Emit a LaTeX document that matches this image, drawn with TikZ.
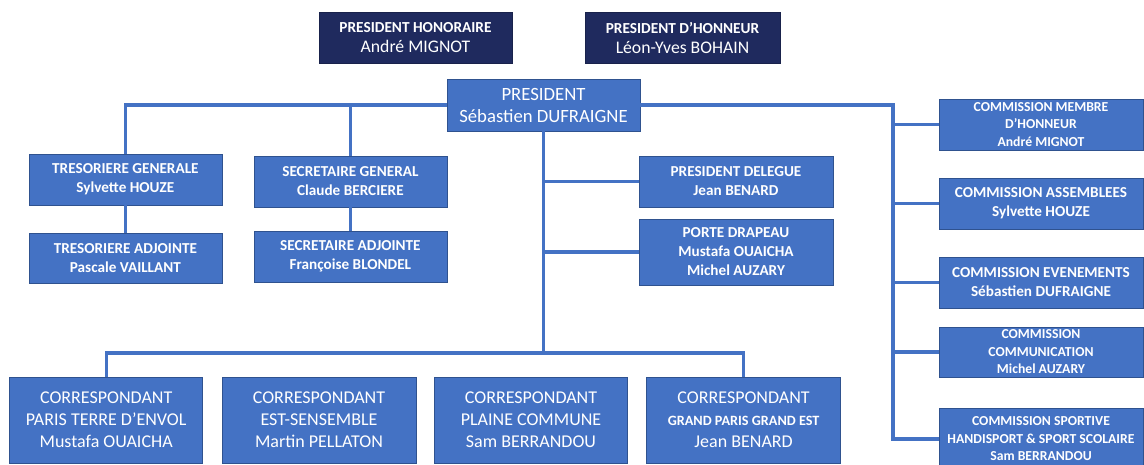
\documentclass[tikz,border=0pt]{standalone}
\usepackage{fontspec}
\setmainfont{Carlito}
\usetikzlibrary{positioning}

\definecolor{rolefill}{HTML}{4472C4}
\definecolor{roleline}{HTML}{2F528F}
\definecolor{honfill}{HTML}{1F2A5E}

\newcommand{\rolefont}{\fontsize{15.2}{19}\selectfont\bfseries}
\newcommand{\comfont}{\fontsize{13.7}{17.5}\selectfont\bfseries}
\newcommand{\corfont}{\fontsize{18}{22}\selectfont}

\tikzset{
        role/.style={rectangle, draw=roleline, fill=rolefill, text=white, align=center,
                line width=0.8pt, inner sep=0pt, minimum width=193pt, minimum height=51pt, font=\rolefont},
        hon/.style={role, draw=honfill!80!black, fill=honfill, font=\fontsize{15.3}{20}\selectfont\bfseries},
        com/.style={role, minimum width=204pt, font=\comfont},
        cor/.style={role, minimum height=86pt, font=\corfont},
        link/.style={draw=rolefill, line width=3.2pt}
}

\begin{document}
\begin{tikzpicture}[x=1pt, y=-1pt]
        \path[fill=white, use as bounding box] (0,0) rectangle (1144,464);
        \node[hon] (Honoraire) at (415.5,37.5) {PRESIDENT HONORAIRE\\{\fontsize{17.7}{20}\selectfont\mdseries André MIGNOT}};
        \node[hon, minimum width=195pt] (Honneur) at (682.5,37.5) {PRESIDENT D’HONNEUR\\{\fontsize{17.7}{20}\selectfont\mdseries Léon-Yves BOHAIN}};
        \node[role, minimum height=52pt, font=\fontsize{18.7}{22}\selectfont] (President) at (543.5,105) {PRESIDENT\\Sébastien DUFRAIGNE};
        \node[role] (Tresoriere) at (125.4,179.5) {TRESORIERE GENERALE\\Sylvette HOUZE};
        \node[role] (Secretaire) at (350.4,181.5) {SECRETAIRE GENERAL\\Claude BERCIERE};
        \node[role, minimum height=50pt] (TresAdjointe) at (125.4,258) {TRESORIERE ADJOINTE\\Pascale VAILLANT};
        \node[role] (SecAdjointe) at (350.4,256.5) {SECRETAIRE ADJOINTE\\Françoise BLONDEL};
        \node[role, minimum width=194pt] (Delegue) at (736,181.5) {PRESIDENT DELEGUE\\Jean BENARD};
        \node[role, minimum width=194pt, minimum height=66pt] (Drapeau) at (736,252) {PORTE DRAPEAU\\Mustafa OUAICHA\\Michel AUZARY};
        \node[com] (ComMembre) at (1041,124.5) {COMMISSION MEMBRE\\D’HONNEUR\\André MIGNOT};
        \node[com, font=\rolefont] (ComAssemblees) at (1041,203.5) {COMMISSION ASSEMBLEES\\Sylvette HOUZE};
        \node[com, font=\rolefont] (ComEvenements) at (1041,282.5) {COMMISSION EVENEMENTS\\Sébastien DUFRAIGNE};
        \node[com, minimum height=50pt] (ComCommunication) at (1041,352) {COMMISSION\\COMMUNICATION\\Michel AUZARY};
        \node[com, minimum height=62pt] (ComSportive) at (1041,439) {COMMISSION SPORTIVE\\HANDISPORT \& SPORT SCOLAIRE\\Sam BERRANDOU};
        \node[cor] (CorParis) at (106.2,420) {CORRESPONDANT\\PARIS TERRE D’ENVOL\\Mustafa OUAICHA};
        \node[cor, minimum width=194pt] (CorEst) at (319,420) {CORRESPONDANT\\EST-SENSEMBLE\\Martin PELLATON};
        \node[cor] (CorPlaine) at (531,420) {CORRESPONDANT\\PLAINE COMMUNE\\Sam BERRANDOU};
        \node[cor, minimum width=194pt] (CorGrand) at (743.6,420) {CORRESPONDANT\\{\fontsize{14.2}{22}\selectfont\bfseries GRAND PARIS GRAND EST}\\Jean BENARD};
        \coordinate (RightBus) at (893,105);
        \coordinate (BotPresident) at (543.5,353);
        \draw[link] (Tresoriere.north) |- (President.west);
        \draw[link] (Secretaire.north) -- (Secretaire.north |- President.west);
        \draw[link] (Tresoriere.south) -- (TresAdjointe.north);
        \draw[link] (Secretaire.south) -- (SecAdjointe.north);
        \draw[link] (President.east) -- (RightBus) |- (ComSportive.west);
        \foreach \com in {ComMembre, ComAssemblees, ComEvenements, ComCommunication}
                \draw[link] (RightBus |- \com.west) -- (\com.west);
        \draw[link] (President.south) -- (BotPresident);
        \draw[link] (Delegue.west) -- (Delegue.west -| BotPresident);
        \draw[link] (Drapeau.west) -- (Drapeau.west -| BotPresident);
        \draw[link] (CorParis.north) |- (BotPresident) -| (CorGrand.north);
\end{tikzpicture}
\end{document}
